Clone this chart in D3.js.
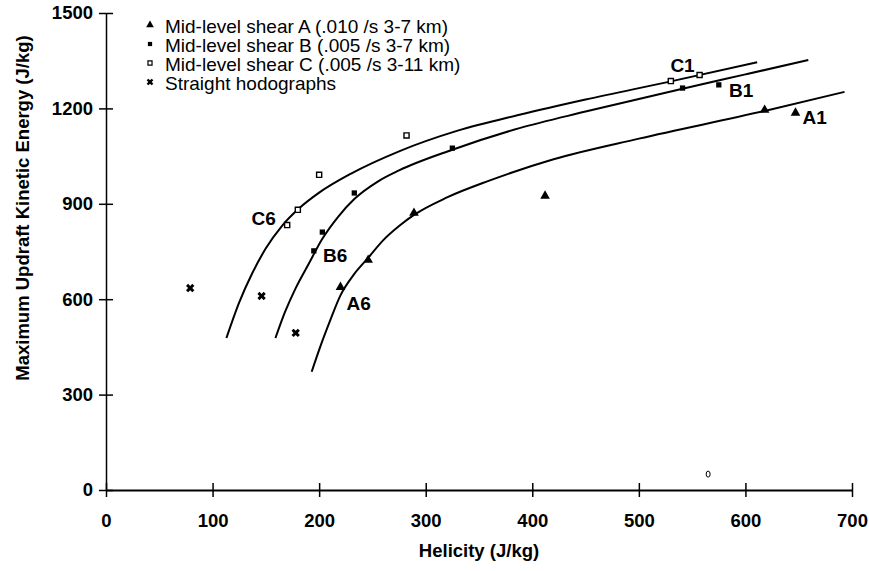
<!DOCTYPE html>
<html>
<head>
<meta charset="utf-8">
<script src="https://cdn.jsdelivr.net/npm/d3@7"></script>
<style>
  body { margin: 0; background: #fff; }
  text { font-family: "Liberation Sans", Arial, sans-serif; fill: #000; }
</style>
</head>
<body>
<div id="chart"></div>
<script>
// tick values
var xTicks = [0, 100, 200, 300, 400, 500, 600, 700];
var yTicks = [0, 300, 600, 900, 1200, 1500];

// points [helicity, max updraft KE]
var shearA = [[220, 638], [246, 723], [289, 871], [412, 925], [618, 1195], [647, 1186]];
var shearB = [[195, 752], [203, 811], [233, 934], [325, 1075], [541, 1264], [575, 1274]];
var shearC = [[170, 833], [180, 881], [200, 991], [282, 1115], [530, 1286], [557, 1305]];
var straight = [[79, 635], [146, 610], [178, 494]];
var stray = [[565, 50]];

// fitted curves
var curveA = [[193, 372], [201, 450], [210, 530], [220, 612], [232, 675], [246, 730], [260, 785], [275, 830],
  [289, 865], [320, 920], [359, 972], [420, 1040], [500, 1105], [618, 1192], [693, 1252]];
var curveB = [[159, 478], [168, 560], [178, 635], [190, 710], [203, 790], [218, 860], [233, 915], [255, 970],
  [275, 1005], [325, 1070], [388, 1138], [450, 1190], [541, 1262], [600, 1307], [659, 1352]];
var curveC = [[113, 478], [125, 590], [137, 680], [150, 760], [165, 830], [181, 885], [200, 935], [230, 995],
  [275, 1065], [330, 1130], [388, 1180], [450, 1228], [530, 1285], [611, 1345]];

// point labels [text, x, y]
var labels = [["C1", 541, 1336], ["B1", 596, 1258], ["A1", 665, 1173],
  ["C6", 148, 855], ["B6", 215, 739], ["A6", 237, 588]];

var legendNames = ["Mid-level shear A (.010 /s 3-7 km)", "Mid-level shear B (.005 /s 3-7 km)",
  "Mid-level shear C (.005 /s 3-11 km)", "Straight hodographs"];

var W = 869, H = 571;
var svg = d3.select("#chart").append("svg").attr("width", W).attr("height", H);

var x = d3.scaleLinear().domain([0, 700]).range([106, 852]);
var y = d3.scaleLinear().domain([0, 1500]).range([490, 13]);

// axes
var xAxis = svg.append("g").attr("transform", "translate(0," + y(0) + ")")
  .call(d3.axisBottom(x).tickValues(xTicks).tickFormat(d3.format("d")).tickSizeOuter(0).tickSizeInner(7).tickPadding(17));
xAxis.selectAll(".tick line").attr("y1", -7).attr("y2", 7).attr("stroke-width", 1.5);
xAxis.select(".domain").attr("stroke-width", 2);
xAxis.selectAll("text").style("font-size", "18.5px").style("font-weight", "bold").attr("fill", "#000");

var yAxis = svg.append("g").attr("transform", "translate(" + x(0) + ",0)")
  .call(d3.axisLeft(y).tickValues(yTicks).tickFormat(d3.format("d")).tickSizeOuter(0).tickSizeInner(7).tickPadding(6));
yAxis.selectAll(".tick line").attr("x1", -7).attr("x2", 7).attr("stroke-width", 1.5);
yAxis.select(".domain").attr("stroke-width", 1.5);
yAxis.selectAll("text").style("font-size", "18.5px").style("font-weight", "bold").attr("fill", "#000");

svg.append("text").attr("x", 479).attr("y", 557).attr("text-anchor", "middle")
  .style("font-size", "18.5px").style("font-weight", "bold").text("Helicity (J/kg)");
svg.append("text").attr("transform", "translate(29,208) rotate(-90)").attr("text-anchor", "middle")
  .style("font-size", "18.5px").style("font-weight", "bold").text("Maximum Updraft Kinetic Energy (J/kg)");

// curves
var line = d3.line().x(function (d) { return x(d[0]); }).y(function (d) { return y(d[1]); })
  .curve(d3.curveMonotoneX);
[curveA, curveB, curveC].forEach(function (c) {
  svg.append("path").attr("d", line(c)).attr("fill", "none").attr("stroke", "#000").attr("stroke-width", 2);
});

// markers
var tri = d3.symbol().type(d3.symbolTriangle).size(40);
var sq = d3.symbol().type(d3.symbolSquare).size(28);
var osq = d3.symbol().type(d3.symbolSquare).size(26);
var crs = d3.symbol().type(d3.symbolCross).size(44);

function drawMarks(data, sym, fill, stroke, rot) {
  svg.append("g").selectAll("path").data(data).enter().append("path")
    .attr("d", sym)
    .attr("transform", function (d) { return "translate(" + x(d[0]) + "," + y(d[1]) + ") rotate(" + rot + ")"; })
    .attr("fill", fill).attr("stroke", stroke).attr("stroke-width", 1.4);
}
drawMarks(shearA, tri, "#000", "none", 0);
drawMarks(shearB, sq, "#000", "none", 0);
drawMarks(shearC, osq, "#fff", "#000", 0);
drawMarks(straight, crs, "#000", "none", 45);

svg.selectAll(".stray").data(stray).enter().append("ellipse")
  .attr("cx", function (d) { return x(d[0]); }).attr("cy", function (d) { return y(d[1]); })
  .attr("rx", 2).attr("ry", 3).attr("fill", "none").attr("stroke", "#000").attr("stroke-width", 1);

// point labels
svg.selectAll(".lbl").data(labels).enter().append("text")
  .attr("x", function (d) { return x(d[1]); }).attr("y", function (d) { return y(d[2]); })
  .attr("dy", "0.35em").attr("text-anchor", "middle")
  .style("font-size", "19px").style("font-weight", "bold").text(function (d) { return d[0]; });

// legend
var legendMarks = [[tri, "#000", "none", 0], [sq, "#000", "none", 0], [osq, "#fff", "#000", 0], [crs, "#000", "none", 45]];
var lg = svg.append("g");
legendNames.forEach(function (name, i) {
  var ly = 25 + i * 19;
  var m = legendMarks[i];
  lg.append("path").attr("d", m[0]).attr("transform", "translate(150," + ly + ") rotate(" + m[3] + ") scale(0.8)")
    .attr("fill", m[1]).attr("stroke", m[2]).attr("stroke-width", 1.5);
  lg.append("text").attr("x", 165).attr("y", ly + 1).attr("dy", "0.35em")
    .style("font-size", "19px").text(name);
});
</script>
</body>
</html>
